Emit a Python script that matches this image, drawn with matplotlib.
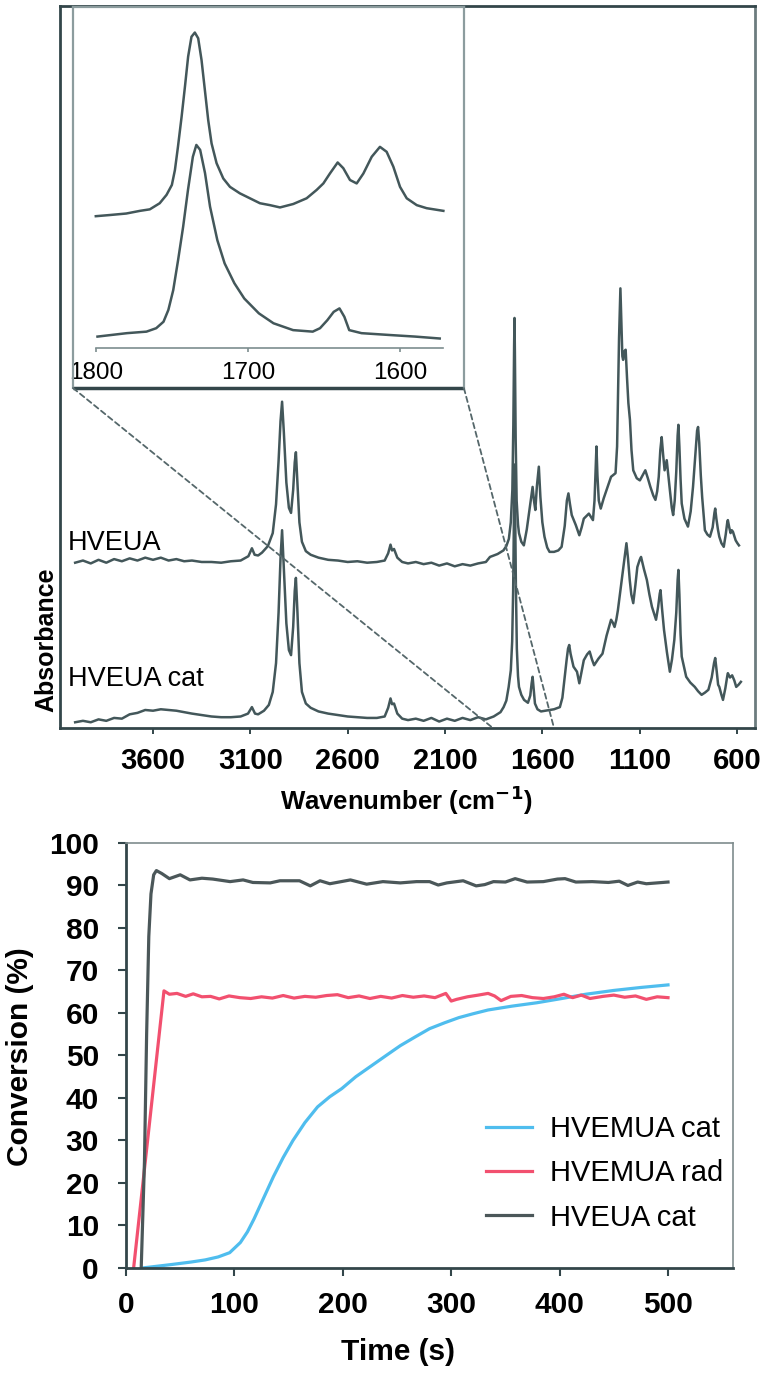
import numpy as np
import matplotlib.pyplot as plt
from matplotlib.patches import ConnectionPatch

plt.rcParams['font.family'] = ['Liberation Sans', 'DejaVu Sans']

# ---- FTIR spectra: (wavenumber cm-1, absorbance with offset, a.u.)
hveua = [(4000, 22.9), (3960, 23.2), (3920, 22.8), (3880, 23.3), (3840, 22.9), (3800, 23.4),
         (3760, 23.1), (3720, 23.5), (3680, 23.2), (3640, 23.6), (3600, 23.3), (3560, 23.6),
         (3520, 23.2), (3480, 23.4), (3440, 23.1), (3400, 23.2), (3350, 23.0), (3300, 23.0),
         (3250, 22.9), (3200, 23.1), (3150, 23.2), (3110, 23.8), (3092, 24.9), (3078, 24.0),
         (3060, 23.9), (3040, 24.3), (3010, 25.2), (2985, 27), (2968, 31), (2955, 37),
         (2945, 42.5), (2937, 45.2), (2928, 41), (2915, 34), (2902, 30.5), (2891, 29.8),
         (2880, 33), (2872, 36.8), (2866, 38.2), (2858, 34), (2848, 28.5), (2835, 25.8),
         (2815, 24.5), (2790, 24), (2750, 23.6), (2700, 23.3), (2650, 23.2), (2600, 23.0),
         (2550, 23.1), (2500, 22.9), (2450, 23.0), (2410, 23.2), (2392, 24.2), (2380, 25.4),
         (2372, 24.6), (2362, 24.8), (2345, 23.6), (2320, 23.0), (2290, 22.8), (2250, 23.0),
         (2210, 22.7), (2170, 22.9), (2130, 22.5), (2090, 22.8), (2050, 22.4), (2010, 22.7),
         (1970, 22.5), (1930, 22.8), (1890, 23.0), (1869, 23.7), (1830, 24.1), (1800, 24.6),
         (1785, 25.2), (1772, 26.2), (1762, 28.5), (1754, 33), (1749, 42), (1745, 53),
         (1743, 56.8), (1741, 52), (1737, 40), (1732, 31.5), (1725, 28.2), (1720, 27),
         (1708, 25.8), (1695, 25.3), (1680, 27.5), (1665, 30.5), (1650, 33.4), (1643, 31.5),
         (1636, 30.2), (1628, 33.5), (1618, 36.2), (1610, 32), (1600, 28.5), (1589, 26.5),
         (1575, 25), (1563, 24.4), (1540, 24.4), (1518, 24.6), (1501, 25.1), (1485, 28),
         (1474, 31.5), (1466, 32.5), (1458, 31), (1449, 29.5), (1428, 28.1), (1410, 26.7),
         (1398, 27.8), (1387, 29.0), (1361, 29.7), (1340, 28.8), (1332, 31.5), (1326, 36),
         (1322, 39.0), (1317, 35), (1310, 31.5), (1300, 30.4), (1285, 31.8), (1265, 33.4),
         (1247, 34.8), (1224, 35.3), (1216, 39), (1212, 45), (1206, 54), (1199, 60.9),
         (1194, 56), (1189, 51.5), (1185, 51), (1178, 52.2), (1172, 52.4), (1165, 48.5),
         (1158, 45), (1150, 42.7), (1142, 38.5), (1133, 35.7), (1115, 34.6), (1099, 34.3),
         (1085, 35), (1071, 35.7), (1058, 34.6), (1045, 33.4), (1030, 32.2), (1019, 31.6),
         (1010, 32.8), (1002, 34.8), (994, 38.5), (987, 40.3), (980, 38), (972, 35.7),
         (966, 36.5), (961, 37.1), (953, 35), (945, 33), (935, 30.5), (928, 29.5), (920, 31.5),
         (912, 35.5), (905, 40.5), (901, 42), (896, 39), (890, 34.5), (884, 31.1), (870, 29),
         (852, 27.9), (838, 30), (826, 33.4), (815, 37.5), (805, 41.2), (800, 41.7),
         (794, 39.5), (786, 35), (779, 32), (765, 27.4), (752, 26.8), (739, 26.5), (725, 27.8),
         (716, 29.8), (712, 30.4), (706, 29), (698, 27.5), (691, 26.5), (680, 25.6),
         (668, 25.1), (658, 26.8), (650, 28.5), (647, 28.8), (640, 27.8), (633, 27.0),
         (627, 27.4), (621, 27.2), (614, 26.6), (607, 26.0), (598, 25.6), (590, 25.3)]

hveua_cat = [(4000, 0.8), (3960, 1.0), (3920, 0.8), (3880, 1.2), (3840, 1.0), (3800, 1.4),
             (3760, 1.3), (3720, 1.9), (3680, 2.1), (3640, 2.5), (3600, 2.4), (3560, 2.6),
             (3520, 2.5), (3480, 2.4), (3440, 2.2), (3400, 2.0), (3350, 1.8), (3300, 1.6),
             (3250, 1.5), (3200, 1.5), (3150, 1.6), (3112, 2.0), (3092, 2.9), (3076, 2.0),
             (3060, 1.9), (3030, 2.4), (3005, 3.2), (2985, 5), (2968, 9), (2955, 16),
             (2945, 23.5), (2937, 27.4), (2928, 22), (2915, 14.5), (2902, 10.8), (2891, 10.1),
             (2880, 14), (2872, 19), (2866, 20.8), (2858, 16), (2848, 9), (2835, 5),
             (2815, 3.4), (2790, 2.8), (2750, 2.3), (2700, 2.0), (2650, 1.8), (2600, 1.6),
             (2550, 1.5), (2500, 1.4), (2450, 1.4), (2410, 1.6), (2392, 2.8), (2380, 4.1),
             (2372, 3.3), (2362, 3.4), (2345, 2.0), (2320, 1.3), (2290, 1.1), (2250, 1.3),
             (2210, 1.0), (2170, 1.4), (2130, 0.9), (2090, 1.3), (2050, 1.0), (2010, 1.4),
             (1970, 1.1), (1930, 1.5), (1890, 1.2), (1850, 1.6), (1815, 2.2), (1799, 2.9),
             (1785, 3.8), (1773, 5.7), (1762, 8), (1755, 12), (1750, 19), (1746, 29),
             (1743, 36.5), (1740, 31), (1736, 20), (1731, 11), (1725, 7.2), (1720, 5.7),
             (1708, 4.6), (1694, 3.9), (1674, 3.5), (1662, 4.5), (1655, 6.2), (1650, 7.1),
             (1645, 5.5), (1638, 3.4), (1625, 2.6), (1607, 2.3), (1585, 2.4), (1563, 2.5),
             (1540, 2.6), (1510, 2.9), (1497, 4.2), (1487, 6.6), (1475, 9.5), (1468, 11),
             (1462, 11.5), (1455, 10.3), (1440, 8.5), (1422, 7.8), (1410, 6.2), (1400, 7.6),
             (1387, 9.4), (1370, 10.2), (1357, 10.6), (1345, 9.5), (1334, 8.7), (1312, 9.6),
             (1291, 10.3), (1270, 12.8), (1247, 15.0), (1238, 14.6), (1229, 14), (1220, 15),
             (1212, 16.3), (1200, 18.8), (1189, 21), (1178, 23.5), (1168, 25.6), (1160, 23.5),
             (1151, 20.5), (1143, 18.5), (1133, 17.3), (1122, 19.8), (1112, 22.3), (1100, 23.3),
             (1093, 23.7), (1078, 22), (1063, 20.5), (1050, 18.5), (1037, 16.8), (1016, 15),
             (1005, 16.8), (997, 18.6), (993, 19.1), (985, 16.5), (975, 13.6), (960, 10.5),
             (945, 7.8), (934, 9.5), (922, 12.2), (912, 16), (905, 20.5), (901, 21.9),
             (896, 18.5), (890, 13), (884, 9.9), (861, 7.1), (840, 6.3), (817, 5.7), (800, 5.1),
             (782, 4.6), (765, 4.9), (747, 5.3), (730, 7), (718, 9), (712, 9.7), (704, 7.8),
             (697, 6), (691, 5.7), (680, 4.6), (672, 3.9), (660, 5.5), (650, 7.2), (647, 7.6),
             (636, 7.0), (625, 7.3), (614, 6.6), (604, 5.7), (592, 6.0), (580, 6.4)]

# zoom on the 1800-1570 region
inset_hveua = [(1800, 45.1), (1791, 45.4), (1780, 45.8), (1771, 46.5), (1764.5, 46.9),
               (1758, 48.5), (1753.5, 50.7), (1750, 53.3), (1748, 57.2), (1746, 63.3),
               (1743.6, 71.2), (1741.4, 79.1), (1739.3, 87.0), (1737.1, 92.2), (1734.9, 93.3),
               (1732.7, 91.8), (1730.5, 86.1), (1728.3, 78.2), (1726.1, 70.3), (1723.9, 64.2),
               (1720.6, 59.0), (1716.2, 55.0), (1711.8, 52.8), (1705.3, 51.1), (1698.7, 49.8),
               (1692.1, 48.5), (1685.5, 48.0), (1678.9, 47.4), (1670.2, 48.3), (1661.4, 49.8),
               (1654.8, 52.0), (1650.4, 53.7), (1646.1, 56.3), (1641, 59.2), (1637.3, 57.7),
               (1632.9, 54.6), (1628.5, 53.7), (1624.1, 56.3), (1618.6, 60.7), (1613.2, 63.3),
               (1608.8, 62.0), (1604.4, 58.1), (1600, 52.8), (1595.6, 49.8), (1589, 48.0),
               (1582.5, 47.2), (1571.5, 46.5)]
inset_hveua_cat = [(1798.9, 13.5), (1779.6, 14.4), (1766.7, 14.8), (1760.3, 15.7),
                   (1755.5, 17.4), (1752.3, 20.5), (1749.1, 25.7), (1745.9, 33.6),
                   (1742.6, 42.3), (1739.4, 52.0), (1736.2, 60.7), (1733.9, 63.8),
                   (1731.4, 62.5), (1728.2, 56.4), (1724.9, 47.6), (1720.1, 38.8),
                   (1715.3, 32.7), (1708.9, 27.5), (1702.4, 23.5), (1692.8, 19.6),
                   (1683.2, 17.0), (1670.3, 15.2), (1657.4, 14.8), (1652.6, 15.7),
                   (1647.8, 17.8), (1643.6, 20.0), (1639.8, 20.9), (1636.6, 18.7),
                   (1633.4, 15.2), (1625.3, 14.4), (1606.1, 13.9), (1590, 13.5), (1573.9, 13.0)]

wn_ticks = [3600, 3100, 2600, 2100, 1600, 1100, 600]
inset_ticks = [1800, 1700, 1600]
zoom_edges = [1854, 1540]

# ---- conversion vs time: (time s, conversion %)
hvemua_cat = [(15, 0), (25, 0.3), (41.5, 0.8), (60, 1.4), (73, 1.9), (85, 2.6), (95.6, 3.6),
              (105.5, 6.0), (112, 8.5), (118, 11.5), (127, 16.5), (136, 21.5), (145, 26),
              (154, 30), (165, 34.2), (176.7, 37.9), (188, 40.3), (199, 42.2), (212, 45),
              (226, 47.5), (240, 50), (253, 52.3), (267, 54.4), (280, 56.3), (294, 57.7),
              (307, 58.9), (320, 59.8), (334, 60.7), (356, 61.6), (379, 62.4), (402, 63.4),
              (424, 64.4), (450, 65.3), (475, 66.0), (500, 66.6)]
hvemua_rad = [(7, 0), (35, 65.2), (40, 64.4), (47, 64.6), (55, 63.9), (62, 64.5), (70, 63.8),
              (78, 63.9), (86, 63.3), (95, 64.0), (105, 63.6), (115, 63.4), (125, 63.8),
              (135, 63.5), (145, 64.1), (155, 63.5), (165, 63.9), (175, 63.7), (185, 64.1),
              (195, 64.3), (205, 63.6), (215, 64.0), (225, 63.4), (235, 63.9), (245, 63.5),
              (255, 64.1), (265, 63.7), (275, 64.0), (285, 63.6), (295, 64.6), (300, 62.8),
              (305, 63.2), (315, 63.8), (325, 64.2), (334, 64.6), (340, 64.0), (346, 62.9),
              (355, 63.9), (365, 64.1), (375, 63.6), (385, 63.4), (395, 63.8), (404, 64.4),
              (412, 63.6), (420, 64.2), (428, 63.4), (440, 63.9), (450, 64.2), (460, 63.7),
              (470, 64.0), (480, 63.2), (490, 63.8), (500, 63.6)]
hveua_cat_conv = [(14, 0), (17, 25), (19, 55), (21, 78), (23, 88), (25.5, 92.5), (28, 93.5),
                  (33, 92.8), (40, 91.6), (50, 92.5), (59, 91.3), (70, 91.7), (80, 91.5),
                  (96, 90.9), (108, 91.3), (117, 90.7), (133, 90.6), (142, 91.1), (160, 91.1),
                  (170, 89.9), (179, 91.1), (188, 90.4), (207, 91.3), (222, 90.3), (237, 90.9),
                  (253, 90.6), (268, 90.9), (280, 90.9), (288, 90.1), (296, 90.6), (311, 91.1),
                  (323, 89.9), (331, 90.2), (339, 90.9), (350, 90.8), (359, 91.6), (370, 90.8),
                  (385, 90.9), (398, 91.5), (405, 91.6), (415, 90.8), (430, 90.9), (445, 90.7),
                  (455, 91.0), (463, 90.0), (472, 90.8), (480, 90.4), (490, 90.6), (500, 90.8)]
series_labels = ['HVEMUA cat', 'HVEMUA rad', 'HVEUA cat']
series_colors = ['#4fbdee', '#f2506f', '#4b5759']
time_ticks = [0, 100, 200, 300, 400, 500]
conv_ticks = list(range(0, 101, 10))

spec_color = '#43575a'
frame_dark = '#33464a'

fig = plt.figure(figsize=(7.62, 13.76), dpi=100)

# ---------------- top: spectra ----------------
ax1 = fig.add_axes([0.0787, 0.4709, 0.912, 0.5247])
for spec in (hveua, hveua_cat):
    wn, ab = np.array(spec).T
    ax1.plot(wn, ab, color=spec_color, lw=1.8)
ax1.set_xlim(4078, 508)
ax1.set_ylim(0, 100)
ax1.set_yticks([])
ax1.set_xticks(wn_ticks)
ax1.tick_params(axis='x', direction='out', length=4, width=1.4, color=frame_dark,
                pad=9.5, labelsize=21)
for lab in ax1.get_xticklabels():
    lab.set_fontweight('bold')
for s in ax1.spines.values():
    s.set_color(frame_dark)
    s.set_linewidth(2)
ax1.spines['right'].set_color('#6c7c7e')
ax1.text(4037, 25.6, 'HVEUA', fontsize=19.5, va='center', ha='left')
ax1.text(4037, 6.8, 'HVEUA cat', fontsize=19.5, va='center', ha='left')
fig.text(46 / 762, 1 - 640 / 1376, 'Absorbance', rotation=90, ha='center', va='center',
         fontsize=18, fontweight='bold')
fig.text(406 / 762, 1 - 800 / 1376, 'Wavenumber (cm$^{\\mathbf{-1}}$)', ha='center',
         va='center', fontsize=18.5, fontweight='bold')

# inset
ins = fig.add_axes([0.0958, 0.718, 0.513, 0.2769])
for spec in (inset_hveua, inset_hveua_cat):
    wn, ab = np.array(spec).T
    ins.plot(wn, ab, color=spec_color, lw=1.8)
ins.set_xlim(1815, 1558)
ins.set_ylim(0, 100)
ins.set_yticks([])
ins.set_xticks(inset_ticks)
ins.spines['bottom'].set_position(('data', 10.5))
ins.spines['bottom'].set_bounds(1800, 1572)
ins.spines['bottom'].set_color('#7d8d8f')
ins.spines['bottom'].set_linewidth(1.2)
ins.tick_params(axis='x', direction='out', length=3, width=1.2, color='#7d8d8f',
                pad=7, labelsize=17.5)
for side in ('left', 'right', 'top'):
    ins.spines[side].set_color('#8c9c9e')
    ins.spines[side].set_linewidth(1.6)
ins.plot([0, 1], [0, 0], transform=ins.transAxes, color=frame_dark, lw=2.5,
         clip_on=False, solid_capstyle='butt')

for corner, wn_edge in zip((0, 1), zoom_edges):
    con = ConnectionPatch(xyA=(corner, 0), coordsA=ins.transAxes,
                          xyB=(wn_edge, 0), coordsB=ax1.transData,
                          color='#55676a', lw=1.3, linestyle=(0, (3, 2)))
    fig.add_artist(con)

# ---------------- bottom: conversion ----------------
ax2 = fig.add_axes([0.1654, 0.0785, 0.7966, 0.3089])
for data, lab, col in zip((hvemua_cat, hvemua_rad, hveua_cat_conv), series_labels, series_colors):
    t, c = np.array(data).T
    ax2.plot(t, c, color=col, lw=2.3, label=lab)
ax2.set_xlim(0, 560)
ax2.set_ylim(0, 100)
ax2.set_xticks(time_ticks)
ax2.set_yticks(conv_ticks)
ax2.tick_params(direction='out', length=6, width=1.5, color=frame_dark, labelsize=21.5)
ax2.tick_params(axis='x', pad=10.5)
ax2.tick_params(axis='y', pad=13.5)
for lab in ax2.get_xticklabels() + ax2.get_yticklabels():
    lab.set_fontweight('bold')
for side in ('left', 'bottom'):
    ax2.spines[side].set_color(frame_dark)
    ax2.spines[side].set_linewidth(2)
for side in ('top', 'right'):
    ax2.spines[side].set_color('#7f8c8d')
    ax2.spines[side].set_linewidth(1.2)
ax2.legend(loc='upper left', bbox_to_anchor=(0.593, 0.360), frameon=False, borderpad=0,
           fontsize=21, handlelength=1.58, handletextpad=0.62, labelspacing=0.56,
           borderaxespad=0)
fig.text(20 / 762, 1 - 1057 / 1376, 'Conversion (%)', rotation=90, ha='center', va='center',
         fontsize=21.5, fontweight='bold')
fig.text(398 / 762, 1 - 1352 / 1376, 'Time (s)', ha='center', va='center',
         fontsize=21.5, fontweight='bold')

fig.savefig('out.png', dpi=100)
